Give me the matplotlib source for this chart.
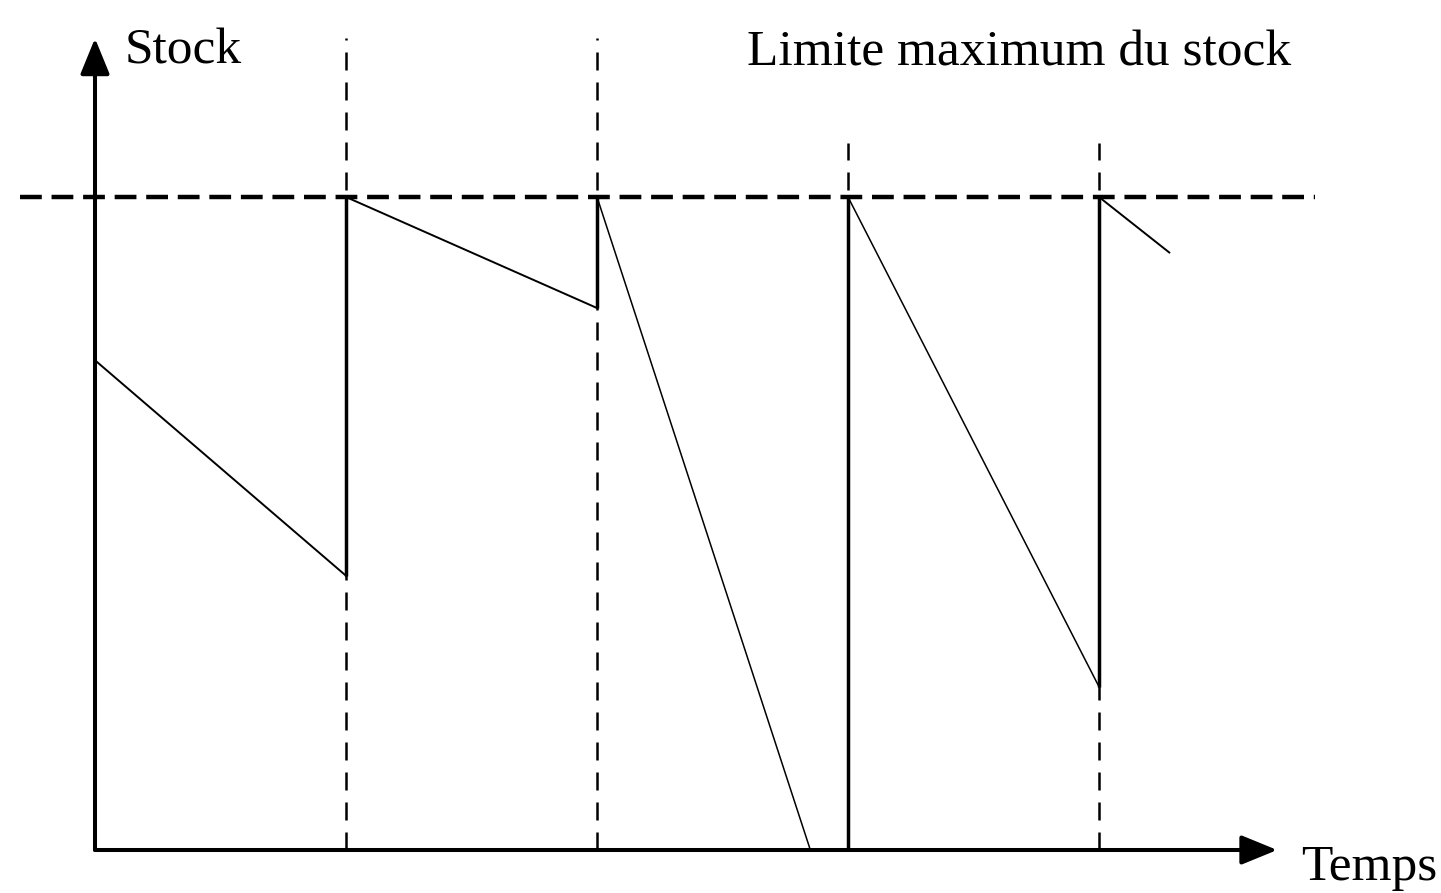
import matplotlib
matplotlib.use("Agg")
import matplotlib.pyplot as plt

# Stock diagram data (time in periods, stock as % of the maximum limit)
stock_max = 100
order_times = [1, 2, 3, 4]
stock_before_order = [42, 83, 0, 25]

# consumption segments: start (t, stock) -> end (t, stock)
cons_t0 = [0, 1, 2, 3, 4]
cons_s0 = [75, 100, 100, 100, 100]
cons_t1 = [1, 2, 2.85, 4, 4.28]
cons_s1 = [42, 83, 0, 25, 91.5]

# guide lines above the max limit
guide_top = [124.3, 124.3, 108.3, 108.3]

axis_t_end = 4.71
axis_s_end = 124.3

# Figure setup
fig = plt.figure(figsize=(14.41, 8.93), dpi=100)
ax = fig.add_axes([0, 0, 1, 1])
ax.set_xlim(-0.3785, 5.3625)
ax.set_ylim(-6.585, 130.17)
ax.axis("off")

# Max stock limit (dashed horizontal)
ax.plot([-0.3, 4.86], [stock_max, stock_max], color="black", lw=3.2,
        linestyle=(0, (4.9, 2.2)), solid_capstyle="butt", dash_capstyle="butt")

# Vertical dashed guides at each order time
for t, top in zip(order_times, guide_top):
    ax.plot([t, t], [0, top], color="black", lw=1.8,
            linestyle=(0, (7.2, 4.8)), dash_capstyle="butt")

# Consumption (thin sloped lines)
for t0, s0, t1, s1 in zip(cons_t0, cons_s0, cons_t1, cons_s1):
    lw = 1.4 if abs(s1 - s0) / (t1 - t0) < 60 else 1.1
    ax.plot([t0, t1], [s0, s1], color="black", lw=lw)

# Replenishments (thick vertical lines)
for t, s in zip(order_times, stock_before_order):
    ax.plot([t, t], [s, stock_max], color="black", lw=2.5, solid_capstyle="butt")

# Axes with arrow heads
arrow = dict(arrowstyle="-|>,head_length=1.1,head_width=0.45", color="black",
             lw=2.9, mutation_scale=20, shrinkA=0, shrinkB=0)
ax.annotate("", xy=(0, axis_s_end), xytext=(0, 0), arrowprops=arrow)
ax.annotate("", xy=(axis_t_end, 0), xytext=(0, 0), arrowprops=arrow)

# Labels
font = dict(family="Liberation Serif", fontsize=37, color="black")
ax.text(0.12, 120.5, "Stock", ha="left", va="baseline", **font)
ax.text(3.683, 120.2, "Limite maximum du stock", ha="center", va="baseline", **font)
ax.text(5.347, -4.6, "Temps", ha="right", va="baseline", **font)

fig.savefig("out.png", dpi=100, facecolor="white")
